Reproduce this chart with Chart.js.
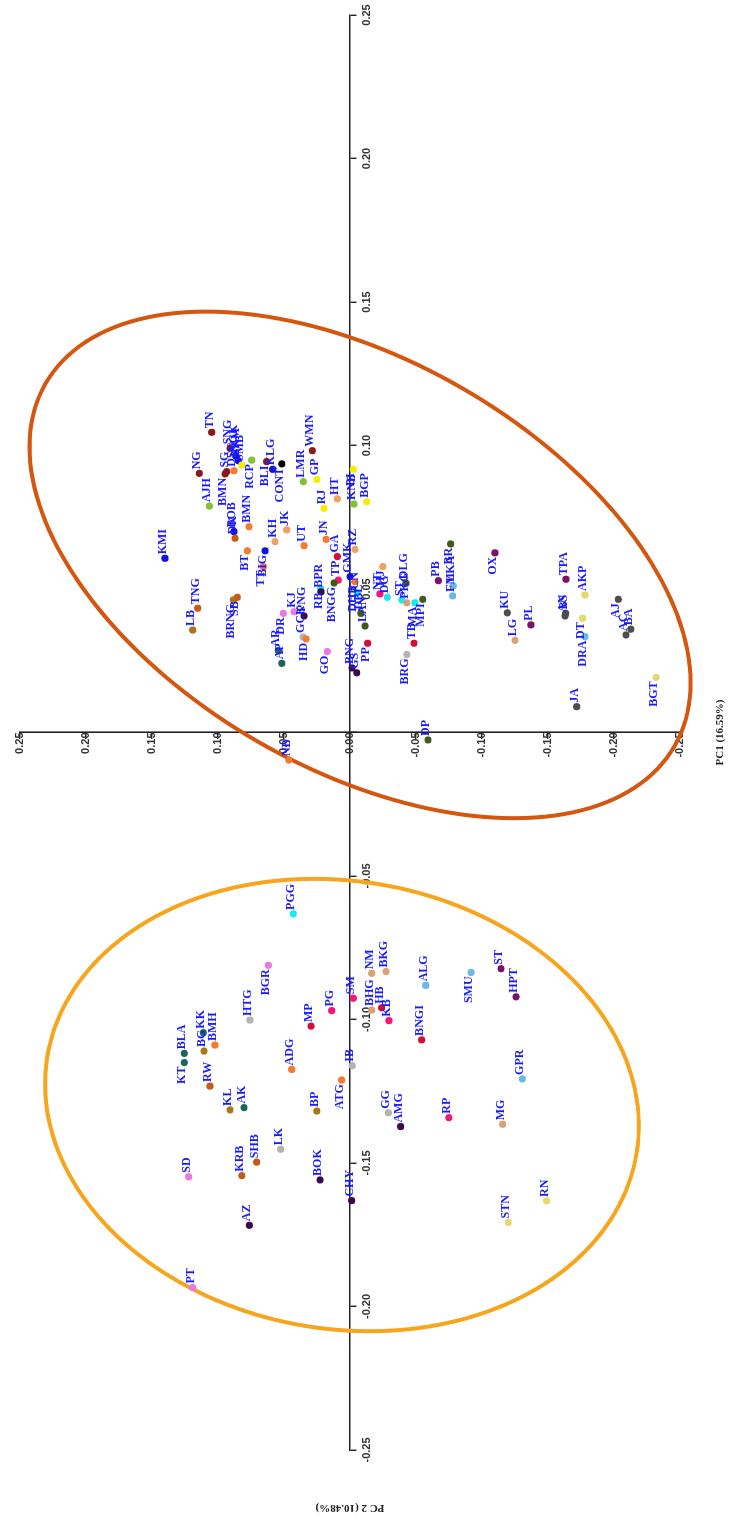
<!DOCTYPE html>
<html>
<head>
<meta charset="utf-8">
<script src="https://cdn.jsdelivr.net/npm/chart.js@4.4.1/dist/chart.umd.min.js"></script>
<style>
  html, body { margin: 0; padding: 0; background: #fff; }
  body { width: 736px; height: 1520px; overflow: hidden; position: relative; }
  /* the chart is drawn landscape and turned a quarter turn, like the source figure */
  #wrap { position: absolute; left: 0; top: 0; width: 1520px; height: 736px;
          transform-origin: 0 0; transform: translate(0, 1520px) rotate(-90deg); }
</style>
</head>
<body>
<div id="wrap"><canvas id="pcaChart" width="1520" height="736"></canvas></div>
<script>
// sample codes, PC1 and PC2 scores
const names = [
  'TN','SNG','NGK','BKM','SMB','NG','SG','DSG','RCP','BLI','KLG','CONT','AJH','BOB','BMN','BMN',
  'DK','BT','TT','BIG','KH','JK','UT','LMR','GP','WMN','RJ','HT','JN','GA','KNB','BI','BGP','RZ',
  'GMK','TP','RB','BPR','DHB','CN','DBL','LAN','PP','GS','BNG','NT','DG','HJ','DLG','ST','PKG','MA',
  'MPI','TB','BRG','BR','PB','LKA','FM','OX','KU','LG','PL','TPA','BS','AN','DT','AKP','DRA','AJ',
  'BA','AC','BGT','JA','DP','NB','KMI','TNG','LB','BRNG','SB','DR','KJ','PNG','AR','AP','GCK','HD',
  'GO','BNGG',
  'PGG','BGR','HTG','MP','PG','SM','KK','BMH','BG','RW','BLA','KT','ADG','IB','ATG','NM','BKG',
  'BHG','HB','KB','ALG','BNGI','SMU','ST','HPT','GPR','KL','AK','BP','LK','SHB','KRB','SD','BOK',
  'CHY','AZ','PT','GG','AMG','RP','MG','STN','RN'
];
const pc1 = [
  0.1046,0.0990,0.0963,0.0947,0.0932,0.0903,0.0909,0.0912,0.0949,0.0944,0.0917,0.0936,0.0789,0.0700,0.0717,0.0901,
  0.0677,0.0633,0.0578,0.0633,0.0665,0.0706,0.0651,0.0874,0.0882,0.0982,0.0781,0.0814,0.0673,0.0613,0.0796,0.0917,0.0804,0.0638,
  0.0543,0.0531,0.0502,0.0490,0.0525,0.0485,0.0415,0.0371,0.0311,0.0208,0.0225,0.0483,0.0471,0.0578,0.0520,0.0462,0.0452,0.0452,
  0.0464,0.0311,0.0272,0.0657,0.0529,0.0511,0.0476,0.0626,0.0417,0.0321,0.0375,0.0534,0.0415,0.0406,0.0398,0.0479,0.0334,0.0464,
  0.0360,0.0340,0.0192,0.0090,-0.0026,-0.0096,0.0607,0.0433,0.0357,0.0462,0.0471,0.0415,0.0421,0.0406,0.0285,0.0241,0.0333,0.0326,
  0.0282,0.0521,
  -0.0632,-0.0811,-0.1002,-0.1023,-0.0969,-0.0926,-0.1046,-0.1089,-0.1110,-0.1232,-0.1118,-0.1150,-0.1174,-0.1161,-0.1211,-0.0839,-0.0833,
  -0.0967,-0.0959,-0.1004,-0.0881,-0.1071,-0.0836,-0.0823,-0.0921,-0.1207,-0.1315,-0.1307,-0.1319,-0.1452,-0.1497,-0.1544,-0.1548,-0.1559,
  -0.1631,-0.1717,-0.1934,-0.1325,-0.1373,-0.1342,-0.1365,-0.1707,-0.1632
];
const pc2 = [
  0.1048,0.0909,0.0864,0.0846,0.0820,0.1142,0.0934,0.0879,0.0745,0.0631,0.0586,0.0517,0.1066,0.0879,0.0765,0.0947,
  0.0871,0.0778,0.0657,0.0644,0.0568,0.0480,0.0348,0.0354,0.0252,0.0286,0.0197,0.0096,0.0182,0.0096,-0.0030,-0.0025,-0.0127,-0.0038,
  0.0000,0.0089,0.0222,0.0220,-0.0038,-0.0055,-0.0083,-0.0114,-0.0134,-0.0051,-0.0015,-0.0227,-0.0283,-0.0248,-0.0424,-0.0392,-0.0430,-0.0492,
  -0.0551,-0.0485,-0.0430,-0.0763,-0.0669,-0.0783,-0.0778,-0.1098,-0.1192,-0.1250,-0.1371,-0.1636,-0.1634,-0.1629,-0.1763,-0.1780,-0.1780,-0.2033,
  -0.2127,-0.2091,-0.2318,-0.1717,-0.0591,0.0464,0.1402,0.1154,0.1192,0.0884,0.0854,0.0505,0.0424,0.0348,0.0543,0.0517,0.0356,0.0333,
  0.0172,0.0121,
  0.0430,0.0619,0.0758,0.0295,0.0139,-0.0025,0.1111,0.1023,0.1106,0.1061,0.1255,0.1255,0.0442,-0.0017,0.0063,-0.0164,-0.0273,
  -0.0164,-0.0240,-0.0295,-0.0573,-0.0543,-0.0917,-0.1144,-0.1258,-0.1305,0.0909,0.0803,0.0252,0.0525,0.0707,0.0820,0.1222,0.0227,
  -0.0013,0.0763,0.1192,-0.0290,-0.0384,-0.0748,-0.1157,-0.1199,-0.1490
];
const xTicks = [-0.25, -0.20, -0.15, -0.10, -0.05, 0.00, 0.05, 0.10, 0.15, 0.20, 0.25];
const yTicks = [-0.25, -0.20, -0.15, -0.10, -0.05, 0.00, 0.05, 0.10, 0.15, 0.20, 0.25];
const xTitle = 'PC1 (16.59%)';
const yTitle = 'PC 2 (10.48%)';

// group ellipses: centre and the two half-axis vectors, in PC units
const ellipses = [
  { color: '#d4560f', cx: 0.0584, cy: -0.0076, ux: -0.0632, uy: -0.2382, vx: -0.0616, vy: 0.0773 },
  { color: '#f6a51c', cx: -0.1298, cy: 0.0061, ux: -0.0168, uy: -0.2232, vx: -0.0770, vy: 0.0274 }
];

// marker colours
const pal = {
  dred: '#8b1a1a', blue: '#1010e0', yel: '#f2f000', ygr: '#86c03a', org: '#f47a2e', sand: '#f0a060',
  crim: '#d0103a', pink: '#f5187a', cyan: '#18ecf0', vio: '#ea7ae0', dpur: '#3a0a4a', teal: '#1a6658',
  gray: '#b4b4b4', dgray: '#4d4d4d', tan: '#d8a272', sky: '#6bb8e2', choc: '#c85a18', gold: '#a8781c',
  pale: '#e6d86e', olive: '#405a1e', pur: '#7a1466', blk: '#000000'
};
const colorKeys = [
  'dred','dred','blue','blue','yel','dred','dred','org','ygr','dred','blue','blk','ygr','blue','org','dred',
  'choc','org','org','blue','sand','sand','org','ygr','yel','dred','yel','sand','org','crim','ygr','yel','yel','sand',
  'blue','pink','cyan','dpur','org','cyan','olive','olive','crim','dpur','dpur','pink','cyan','sand','olive','cyan','tan','cyan',
  'olive','crim','gray','olive','pur','sky','sky','pur','dgray','tan','pur','pur','dgray','dgray','pale','pale','sky','dgray',
  'dgray','dgray','pale','dgray','olive','org','blue','choc','gold','gold','choc','vio','vio','dpur','teal','teal','gray','org',
  'vio','olive',
  'cyan','vio','gray','crim','pink','pink','teal','org','gold','choc','teal','teal','org','gray','org','tan','tan',
  'tan','crim','pink','sky','crim','sky','pur','pur','sky','gold','teal','gold','gray','choc','choc','vio','dpur',
  'dpur','dpur','vio','gray','dpur','pink','tan','pale','pale'
];
// labels written on the left of their marker
const leftLabels = new Set([8, 9, 11, 15, 17, 18, 19, 31, 36, 38, 42, 47, 51, 52, 54, 55, 59, 66, 68, 69, 72,
  79, 80, 81, 87, 88, 89, 91, 101, 104, 112]);

const ellipsePlugin = {
  id: 'ellipses',
  beforeDatasetsDraw(chart) {
    const { ctx, scales: { x, y } } = chart;
    ctx.save();
    ctx.lineWidth = 4;
    ellipses.forEach(e => {
      ctx.strokeStyle = e.color;
      ctx.beginPath();
      for (let k = 0; k <= 180; k++) {
        const t = k / 180 * Math.PI * 2;
        const px = x.getPixelForValue(e.cx + e.ux * Math.cos(t) + e.vx * Math.sin(t));
        const py = y.getPixelForValue(e.cy + e.uy * Math.cos(t) + e.vy * Math.sin(t));
        if (k === 0) ctx.moveTo(px, py); else ctx.lineTo(px, py);
      }
      ctx.closePath();
      ctx.stroke();
    });
    ctx.restore();
  }
};

const labelPlugin = {
  id: 'pointLabels',
  afterDatasetsDraw(chart) {
    const { ctx } = chart;
    const pts = chart.getDatasetMeta(0).data;
    ctx.save();
    ctx.font = 'bold 12px "Liberation Serif"';
    ctx.fillStyle = '#1a1aff';
    ctx.textBaseline = 'alphabetic';
    pts.forEach((p, i) => {
      const left = leftLabels.has(i);
      ctx.textAlign = left ? 'right' : 'left';
      ctx.fillText(names[i], p.x + (left ? -4 : 4), p.y + 1);
    });
    ctx.restore();
  }
};

const titlePlugin = {
  id: 'axisTitles',
  afterDraw(chart) {
    const { ctx, scales: { x, y } } = chart;
    ctx.save();
    ctx.fillStyle = '#222';
    ctx.font = 'bold 11px "Liberation Serif"';
    ctx.textAlign = 'center';
    ctx.textBaseline = 'middle';
    ctx.fillText(xTitle, x.getPixelForValue(0), 720);
    ctx.translate(12, y.getPixelForValue(0));
    ctx.rotate(-Math.PI / 2);
    ctx.fillText(yTitle, 0, 0);
    ctx.restore();
  }
};

const fmt = v => (Math.abs(v) < 1e-9 ? '0.00' : v.toFixed(2));
const axisFont = { family: '"Liberation Sans"', size: 11, weight: 'bold' };

new Chart(document.getElementById('pcaChart').getContext('2d'), {
  type: 'scatter',
  data: {
    datasets: [{
      data: pc1.map((v, i) => ({ x: v, y: pc2[i] })),
      pointBackgroundColor: colorKeys.map(k => pal[k]),
      pointBorderWidth: 0,
      pointRadius: 3.6
    }]
  },
  options: {
    responsive: false,
    animation: false,
    devicePixelRatio: 1,
    layout: { padding: { left: 70, right: 15, top: 20, bottom: 56 } },
    plugins: { legend: { display: false }, tooltip: { enabled: false } },
    scales: {
      x: {
        type: 'linear', min: -0.25, max: 0.25,
        position: { y: 0 },
        afterFit: s => { s.height = 0; },
        afterBuildTicks: s => { s.ticks = xTicks.map(v => ({ value: v })); },
        border: { color: '#222', width: 1.6 },
        grid: { drawOnChartArea: false, tickLength: 6, color: '#222', lineWidth: 1.4 },
        // the origin is labelled only once, on the PC2 axis
        ticks: { callback: v => (Math.abs(v) < 1e-9 ? '' : fmt(v)), font: axisFont, color: '#333', padding: 4, maxRotation: 0, autoSkip: false }
      },
      y: {
        type: 'linear', min: -0.25, max: 0.25,
        position: { x: 0 },
        afterFit: s => { s.width = 0; },
        afterBuildTicks: s => { s.ticks = yTicks.map(v => ({ value: v })); },
        border: { color: '#222', width: 1.6 },
        grid: { drawOnChartArea: false, tickLength: 6, color: '#222', lineWidth: 1.4 },
        ticks: { callback: fmt, font: axisFont, color: '#333', padding: 4, autoSkip: false }
      }
    }
  },
  plugins: [ellipsePlugin, labelPlugin, titlePlugin]
});
</script>
</body>
</html>
